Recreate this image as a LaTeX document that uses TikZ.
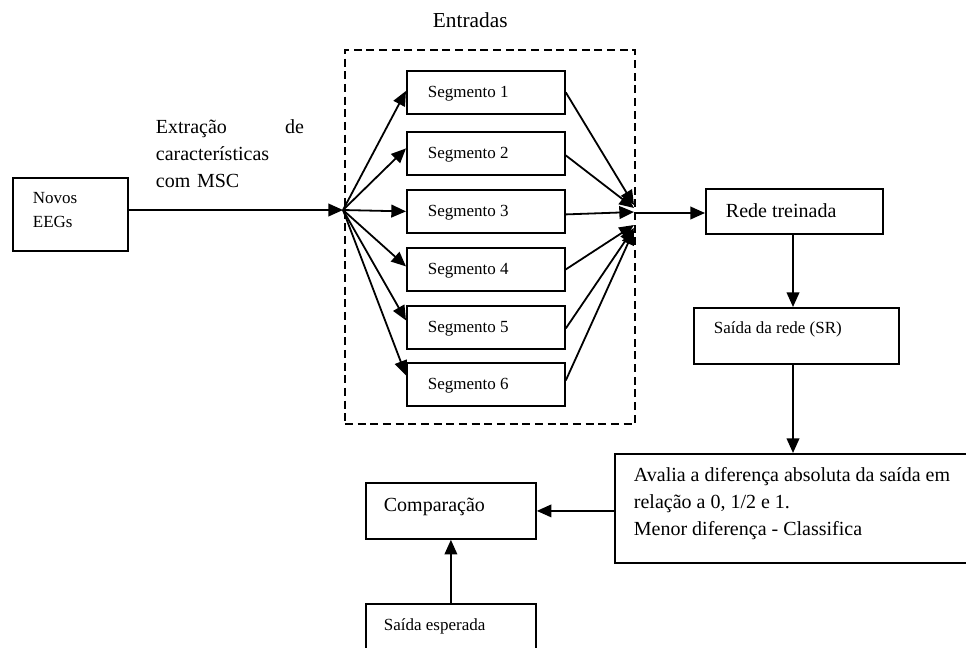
\documentclass[tikz,border=0pt]{standalone}
\usepackage{fontspec}
\setmainfont{Liberation Serif}
\usetikzlibrary{arrows.meta,calc}
\begin{document}
\begin{tikzpicture}[x=0.75pt,y=-0.75pt,line width=1.35pt,
  box/.style 2 args={draw, anchor=north west, inner sep=0pt, minimum width=#1*0.75pt, minimum height=#2*0.75pt},
  bigtxt/.style={font=\fontsize{15}{20.25}\selectfont, inner sep=0pt, anchor=base west},
  smalltxt/.style={font=\fontsize{12.75}{18}\selectfont, inner sep=0pt, anchor=base west},
  arr/.style={-{Triangle[length=11pt,width=9.5pt]}},
  grpbox/.style={draw, dash pattern=on 6pt off 3.5pt}
]
\path[fill=white, use as bounding box] (0,0) rectangle (966,647);
\clip (0,0) rectangle (966,647);

% group of inputs
\node[bigtxt, font=\fontsize{16}{19}\selectfont] (entr) at (432,27) {Entradas};
\node[box={290}{374}, grpbox] (grp) at (344,49) {};

% Novos EEGs
\node[box={115}{73}] (nov) at (12,177) {};
\node[smalltxt, anchor=north west, align=left] (novt) at (32,191) {Novos\\EEGs};

% extraction label
\node[bigtxt, anchor=north west, text width=148*0.75pt, align=left] (ext) at (155,119)
  {Extração \hfill de\\características\\com MSC};

% segments
\foreach \i/\t in {1/70,2/131,3/189,4/247,5/305,6/362}{
  \node[box={158}{43}] (s\i) at (406,\t) {};
  \node[smalltxt] (st\i) at (427,\t+27) {Segmento \i};
}

\coordinate (fanL) at (343,210);
\draw[arr] (nov.east |- fanL) -- (fanL);
\foreach \i/\d in {1/-1.5,2/-5,3/0,4/-3,5/-7,6/-9}
  \draw[arr] (fanL) -- ($(s\i.west)+(0,\d)$);

\foreach \i/\a/\b in {1/0/205,2/2/208,3/3/212,4/0/225,5/1/228,6/-4/230}{
  \coordinate (c\i) at (634,\b);
  \draw[arr] ($(s\i.east)+(0,\a)$) -- (c\i);
}

% right column
\node[box={177}{45}] (rede) at (705,188) {};
\node[bigtxt] (redet) at (725,217) {Rede treinada};
\coordinate (conv) at (634,213);
\draw[arr] (conv) -- (conv -| rede.west);
\coordinate (vx) at (793,0);

\node[box={205}{56}] (sai) at (693,307) {};
\node[smalltxt] (sait) at (713,333) {Saída da rede (SR)};
\draw[arr] (vx |- rede.south) -- (vx |- sai.north);

\node[box={380}{109}] (aval) at (614,453) {};
\node[bigtxt, anchor=north west, align=left] (avalt) at (633,467)
  {Avalia a diferença absoluta da saída em\\relação a 0, 1/2 e 1.\\Menor diferença - Classifica};
\draw[arr] (vx |- sai.south) -- (vx |- aval.north);

\node[box={170}{56}] (comp) at (365,482) {};
\node[bigtxt] (compt) at (383,511) {Comparação};
\draw[arr] (aval.west |- comp.east) -- (comp.east);

\node[box={170}{80}] (esp) at (365,603) {};
\node[smalltxt] (espt) at (383,630) {Saída esperada};
\draw[arr] (esp.north) -- (comp.south);
\end{tikzpicture}
\end{document}
